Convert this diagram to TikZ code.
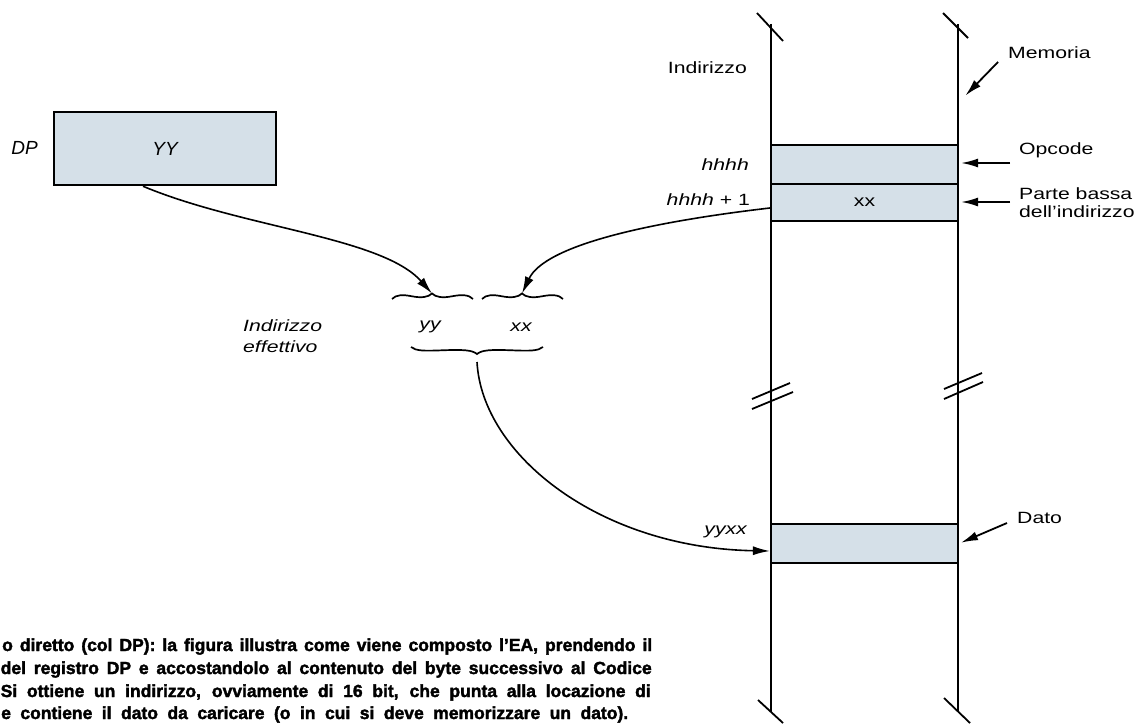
\documentclass[tikz,border=0pt]{standalone}
\usepackage{fontspec}
\setmainfont{Liberation Sans}
\newfontfamily\labfont[FakeStretch=1.3]{Liberation Sans}
\newfontfamily\dpfont{Liberation Sans}
\newfontfamily\capfont[FakeBold=2]{Liberation Sans}
\usetikzlibrary{arrows.meta,calc}
\definecolor{cellblue}{RGB}{213,224,232}
\begin{document}
\begin{tikzpicture}[x=1pt,y=-1pt,
  lab/.style={font=\labfont\fontsize{16.3}{18}\selectfont, inner sep=0pt},
  ilab/.style={font=\labfont\itshape\fontsize{16.3}{21}\selectfont, inner sep=0pt},
  cell/.style={draw, line width=2.2pt, fill=cellblue, inner sep=0pt, minimum width=187pt},
  wall/.style={line width=2.2pt},
  cut/.style={line width=1.8pt},
  flow/.style={line width=1.6pt, -{Latex[length=17pt,width=9pt]}},
  point/.style={line width=1.8pt, -{Latex[length=17pt,width=9pt]}, shorten >=2pt},
  brace/.style={line width=1.7pt},
  capline/.style={font=\capfont\bfseries\fontsize{17.5}{22.7}\selectfont, inner sep=0pt, anchor=base west}]
\useasboundingbox (0,0) rectangle (1147,725);

% DP register
\node[draw, line width=2.5pt, fill=cellblue, minimum width=222pt, minimum height=73pt, inner sep=0pt,
      font=\dpfont\itshape\fontsize{19}{22}\selectfont] (dp) at (165,148.5) {YY};
\node[font=\dpfont\itshape\fontsize{19}{22}\selectfont, inner sep=0pt] (dplabel) at (24.5,148) {DP};

% memory cells
\node[cell, minimum height=39pt] (opc) at (864.5,164.5) {};
\node[cell, minimum height=37pt, font=\labfont\fontsize{16.3}{18}\selectfont] (low) at (864.5,202.5) {xx};
\node[cell, minimum height=39pt] (dato) at (864.5,543.5) {};

% memory walls
\draw[wall] (771,24) -- (771,712);
\draw[wall] (958,24) -- (958,711);
% cut marks
\draw[cut] (757,13) -- (783,41);
\draw[cut] (943,13) -- (968,38);
\draw[cut] (758,700) -- (783,723);
\draw[cut] (944,698) -- (970,723);
\draw[cut] (752,399) -- (790,383);
\draw[cut] (752,409) -- (793,392);
\draw[cut] (944,389) -- (982,373);
\draw[cut] (944,399) -- (983,382);

% left labels of memory
\node[lab, anchor=base east] (addr) at (747,73) {Indirizzo};
\node[ilab, anchor=base east] (ah) at (749,170) {hhhh};
\node[lab, anchor=base east] (ah1) at (750,205) {{\itshape hhhh} + 1};
\node[ilab, anchor=base east] (yyxx) at (747,534) {yyxx};

% right labels
\node[lab, anchor=west] (mem) at (1008,53) {Memoria};
\node[lab, anchor=west] (opl) at (1019,150) {Opcode};
\node[lab, anchor=west, align=left] (pbl) at (1019,202.5) {Parte bassa\\dell’indirizzo};
\node[lab, anchor=west] (datol) at (1017,518) {Dato};

\coordinate (memA) at (998,62);
\coordinate (memT) at (964,97);
\coordinate (opA) at (1010,163);
\coordinate (pbA) at (1010,202);
\coordinate (datA) at (1007,523);
\draw[point] (memA) -- (memT);
\draw[point] (opA) -- (opA -| opc.east);
\draw[point] (pbA) -- (pbA -| low.east);
\draw[point] (datA) -- (dato.east);

% effective address
\node[ilab, anchor=west, align=left] (eff) at (243,336.5) {Indirizzo\\effettivo};
\node[ilab] (yy) at (430,327) {yy};
\node[ilab] (xx) at (521,327) {xx};

\coordinate (b1) at (432,293.5);
\coordinate (b2) at (522,293.5);
\coordinate (b3) at (477,354);
\draw[brace] (392,299) .. controls (396,294.5) and (403,294.5) .. (412,296.3)
   .. controls (421,298) and (428,297.5) .. (b1)
   .. controls (436,297.5) and (443,298) .. (452,296.3)
   .. controls (461,294.5) and (469,294.5) .. (473,299);
\draw[brace] (482,299) .. controls (486,294.5) and (493,294.5) .. (502,296.3)
   .. controls (511,298) and (518,297.5) .. (b2)
   .. controls (526,297.5) and (533,298) .. (542,296.3)
   .. controls (551,294.5) and (559,294.5) .. (563,299);
\draw[brace] (411,347) .. controls (416,351) and (424,351) .. (442,350.3)
   .. controls (464,349.5) and (472,350) .. (b3)
   .. controls (482,350) and (490,349.5) .. (512,350.3)
   .. controls (530,351) and (538,351) .. (543,347);

% connectors
\draw[flow] ($(dp.south)+(-22,0)$) .. controls (243,228) and (382,237) .. (b1);
\draw[flow] ($(low.west)+(0,5.5)$) .. controls (650,222) and (545,245) .. (b2);
\draw[flow] ($(b3)+(0,8)$) .. controls (482,455) and (600,548) .. ($(dato.west)+(0,7.5)$);

% caption
\node[capline] (cap1) at (2,651) {\makebox[650pt][s]{o diretto (col DP): la figura illustra come viene composto l’EA, prendendo il}};
\node[capline] (cap2) at (0.5,674) {\makebox[651pt][s]{del registro DP e accostandolo al contenuto del byte successivo al Codice}};
\node[capline] (cap3) at (0.5,697) {\makebox[650pt][s]{Si ottiene un indirizzo, ovviamente di 16 bit, che punta alla locazione di}};
\node[capline] (cap4) at (1,719) {\makebox[627pt][s]{e contiene il dato da caricare (o in cui si deve memorizzare un dato).}};
\end{tikzpicture}
\end{document}
